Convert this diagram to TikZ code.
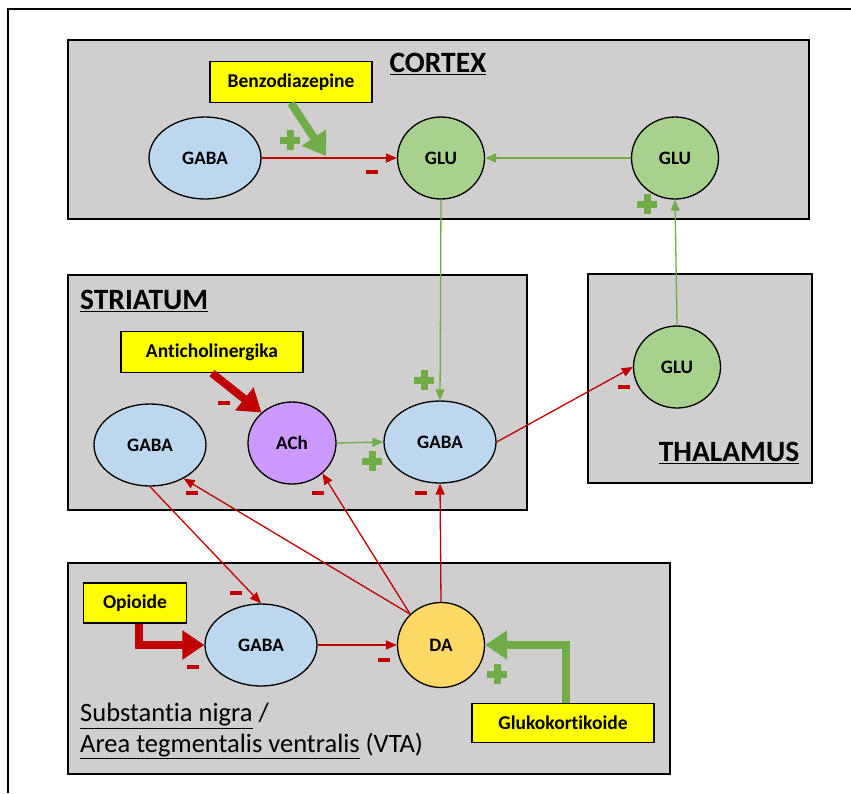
\documentclass[tikz,border=0pt]{standalone}
\usepackage{fontspec}
\setmainfont[Ligatures={NoCommon}]{Carlito}
\usepackage{tikz}
\usetikzlibrary{arrows.meta,shapes.geometric,positioning}
\definecolor{regiongray}{RGB}{208,206,206}
\definecolor{gabablue}{RGB}{189,215,238}
\definecolor{glugreen}{RGB}{169,209,142}
\definecolor{achpurple}{RGB}{204,153,255}
\definecolor{dayellow}{RGB}{255,217,102}
\definecolor{drugyellow}{RGB}{255,255,0}
\definecolor{inhibred}{RGB}{192,0,0}
\definecolor{excitgreen}{RGB}{112,173,71}
\tikzstyle{region} = [rectangle, anchor=north west, inner sep=0, draw=black, line width=1.6pt, fill=regiongray]
\tikzstyle{regionlabel} = [font=\fontsize{29.5}{34}\selectfont\bfseries, inner sep=0]
\tikzstyle{neuron} = [ellipse, draw=black, line width=1.3pt, inner sep=0, minimum width=112pt, minimum height=82pt, font=\fontsize{19}{22}\selectfont\bfseries]
\tikzstyle{gabacell} = [neuron, fill=gabablue]
\tikzstyle{glucell} = [neuron, fill=glugreen, minimum width=87pt]
\tikzstyle{drug} = [rectangle, draw=black, line width=1.3pt, fill=drugyellow, minimum height=41pt, font=\fontsize{19.5}{23}\selectfont\bfseries]
\tikzstyle{inhib} = [line width=1.3pt, -{Triangle[length=11pt,width=9pt]}, color=inhibred]
\tikzstyle{excit} = [line width=1.3pt, -{Triangle[length=11pt,width=9pt]}, color=excitgreen]
\tikzstyle{druginhib} = [line width=8pt, -{Triangle[length=22pt,width=28pt]}, color=inhibred]
\tikzstyle{drugexcit} = [line width=8pt, -{Triangle[length=22pt,width=28pt]}, color=excitgreen]
\tikzstyle{minussign} = [rectangle, fill=inhibred, inner sep=0, minimum width=12pt, minimum height=4.5pt]
\tikzstyle{plussign} = [rectangle, inner sep=0, minimum size=20pt,
  path picture={\fill[excitgreen] ([xshift=-10pt,yshift=-3.5pt]path picture bounding box.center) rectangle ++(20pt,7pt);
                \fill[excitgreen] ([xshift=-3.5pt,yshift=-10pt]path picture bounding box.center) rectangle ++(7pt,20pt);}]

\begin{document}
\begin{tikzpicture}[x=1pt, y=-1pt, node distance=236pt]
\useasboundingbox (0,0) rectangle (851,793);
% outer frame
\draw[line width=1.5pt] (8,793) -- (8,9) -- (851,9);

% Regions
\node (cortex) [region, minimum width=741pt, minimum height=179pt] at (67,39) {};
\node (striatum) [region, minimum width=459pt, minimum height=235pt] at (67,274) {};
\node (thalamus) [region, minimum width=224pt, minimum height=209pt] at (587,273) {};
\node (sn) [region, minimum width=602pt, minimum height=211pt] at (67,562) {};

\node (cortexlbl) [regionlabel] at (438,64) {\underline{CORTEX}};
\node (striatumlbl) [regionlabel, anchor=west] at (80,301) {\underline{STRIATUM}};
\node (thalamuslbl) [regionlabel] at (729,453) {\underline{THALAMUS}};
\node (snlbl1) [anchor=west, inner sep=0, font=\fontsize{26.5}{30}\selectfont] at (80,716) {\underline{Substantia nigra} /};
\node (snlbl2) [anchor=west, inner sep=0, font=\fontsize{26.5}{30}\selectfont] at (80,746) {\underline{Area tegmentalis ventralis} (VTA)};

% Cortex neurons
\node (cgaba) [gabacell] at (205,158) {GABA};
\node (cglu) [glucell, right of=cgaba] {GLU};
\node (cglu2) [glucell, right of=cglu, xshift=-2pt] {GLU};
\node (benzo) [drug, minimum width=162pt] at (291,82) {Benzodiazepine};
\coordinate (benzotip) at (326,156);

% Striatum neurons
\node (sgaba1) [gabacell] at (150,445) {GABA};
\node (ach) [neuron, fill=achpurple, minimum width=88pt] at (292,443) {ACh};
\node (sgaba2) [gabacell] at (440,442) {GABA};
\node (anti) [drug, minimum width=182pt] at (212,352) {Anticholinergika};

% Thalamus
\node (tglu) [glucell] at (677,367) {GLU};

% Substantia nigra / VTA
\node (ngaba) [gabacell] at (261,645) {GABA};
\node (da) [neuron, fill=dayellow, minimum width=87pt, minimum height=85pt] at (441,645) {DA};
\node (opi) [drug, minimum width=103pt, minimum height=40pt] at (135,603) {Opioide};
\node (gluko) [drug, minimum width=182pt, minimum height=39pt] at (563,723) {Glukokortikoide};

% Connections
\draw[inhib] (cgaba.east) -- (cglu.west);
\draw[excit] (cglu2.west) -- (cglu.east);
\draw[excit] (tglu.north) -- (cglu2.south);
\draw[excit] (cglu.south) -- (sgaba2.north);
\draw[excit] (ach.east) -- (sgaba2.west);
\draw[inhib] (sgaba2.east) -- (tglu.west);
\draw[inhib] (sgaba1.south) -- (ngaba.north);
\draw[inhib] (da.135) -- (sgaba1.-45);
\draw[inhib] (da.135) -- (ach.-45);
\draw[inhib] (da.north) -- (sgaba2.south);
\draw[inhib] (ngaba.east) -- (da.west);

% Drug arrows
\draw[drugexcit] (benzo.south) -- (benzotip);
\draw[druginhib] (anti.south) -- (ach.135);
\draw[druginhib] ([xshift=4pt]opi.south) |- (ngaba.west);
\draw[drugexcit] ([xshift=3pt]gluko.north) |- (da.east);

% Signs
\node (p1) [plussign] at (290,140) {};
\node (p2) [plussign] at (647,204) {};
\node (p3) [plussign] at (424,380) {};
\node (p4) [plussign] at (372,461) {};
\node (p5) [plussign] at (497,674) {};
\node (m1) [minussign] at (372,172) {};
\node (m2) [minussign] at (224,403) {};
\node (m3) [minussign] at (192,493) {};
\node (m4) [minussign] at (318,493) {};
\node (m5) [minussign] at (421,493) {};
\node (m6) [minussign] at (624,387) {};
\node (m7) [minussign] at (236,593) {};
\node (m8) [minussign] at (193,667) {};
\node (m9) [minussign] at (384,660) {};
\end{tikzpicture}
\end{document}
